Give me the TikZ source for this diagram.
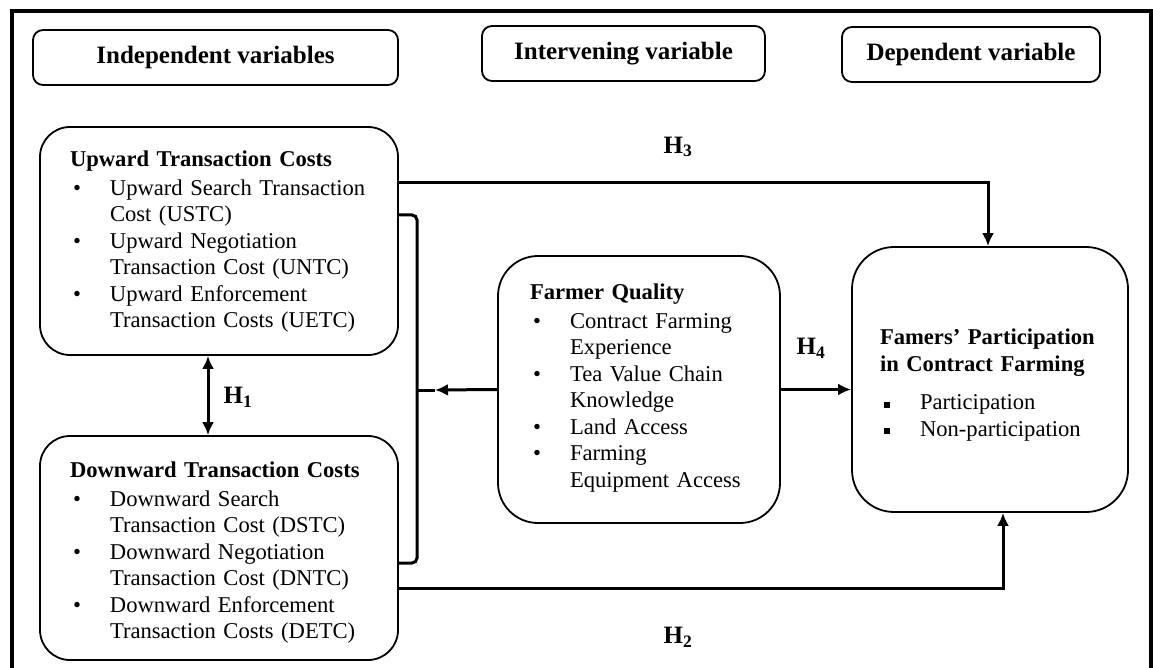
\documentclass[tikz,border=0pt]{standalone}
\usepackage{fontspec}
\setmainfont{Liberation Serif}
\usetikzlibrary{arrows.meta}
\tikzset{
  headbox/.style={draw,line width=1.8pt,rounded corners=10pt,minimum height=55pt,font=\fontsize{25}{30}\selectfont\bfseries},
  varbox/.style={draw,line width=1.8pt,align=left,font=\fontsize{22.6}{26.5}\selectfont},
  link/.style={line width=3pt},
  hlabel/.style={font=\fontsize{25}{30}\selectfont\bfseries}
}

\begin{document}
\begin{tikzpicture}[x=1pt,y=-1pt,>={Latex[length=13pt,width=12pt]}]
\path[use as bounding box] (0,0) rectangle (1153,668);
\fill[white] (0,0) rectangle (1153,668);
\draw[line width=4pt] (12,668) -- (12,11) -- (1151,11) -- (1151,668);

\node[headbox,minimum width=365pt] (indep) at (215.5,57.5) {Independent variables};
\node[headbox,minimum width=283pt] (interv) at (623.5,53.5) {Intervening variable};
\node[headbox,minimum width=258pt] (dep) at (971,54.5) {Dependent variable};

\node[varbox,rounded corners=30pt,minimum width=358pt,minimum height=228pt,text width=298pt] (up) at (219,241) {\rule{0pt}{20pt}\textbf{Upward Transaction Costs}\\[2pt]
\begin{tabular}[t]{@{\hspace{3pt}}p{37pt}@{}l@{}}
\textbullet & Upward Search Transaction\\
 & Cost (USTC)\\
\textbullet & Upward Negotiation\\
 & Transaction Cost (UNTC)\\
\textbullet & Upward Enforcement\\
 & Transaction Costs (UETC)
\end{tabular}};

\node[varbox,rounded corners=30pt,minimum width=358pt,minimum height=224pt,text width=298pt] (down) at (219,548) {\rule{0pt}{28pt}\textbf{Downward Transaction Costs}\\[2pt]
\begin{tabular}[t]{@{\hspace{3pt}}p{37pt}@{}l@{}}
\textbullet & Downward Search\\
 & Transaction Cost (DSTC)\\
\textbullet & Downward Negotiation\\
 & Transaction Cost (DNTC)\\
\textbullet & Downward Enforcement\\
 & Transaction Costs (DETC)
\end{tabular}};

\node[varbox,rounded corners=40pt,minimum width=282pt,minimum height=267pt,text width=218pt] (fq) at (639,389.5) {\textbf{Farmer Quality}\\[2pt]
\begin{tabular}[t]{@{\hspace{3pt}}p{37pt}@{}l@{}}
\textbullet & Contract Farming\\
 & Experience\\
\textbullet & Tea Value Chain\\
 & Knowledge\\
\textbullet & Land Access\\
\textbullet & Farming\\
 & Equipment Access
\end{tabular}};

\node[varbox,rounded corners=42pt,minimum width=276pt,minimum height=265pt,text width=220pt] (part) at (990,379.5) {\rule{0pt}{30pt}\textbf{Famers’ Participation}\\
\textbf{in Contract Farming}\\[12pt]
\begin{tabular}[t]{@{\hspace{4pt}}p{36pt}@{}l@{}}
\rule[2pt]{6pt}{6pt} & Participation\\
\rule[2pt]{6pt}{6pt} & Non-participation
\end{tabular}};

\coordinate (join) at (417,390);

\draw[link,<->] (208,0 |- up.south) -- (208,0 |- down.north);
\draw[link,rounded corners=5pt] (up.east |- 0,215) -- (417,215) -- (417,563) -- (down.east |- 0,563);
\draw[link] (join) -- ++(18,0);
\draw[link,->] (fq.west) -- ([xshift=18pt]join);
\draw[link,->] (up.east |- 0,183) -- (988,183) -- (988,0 |- part.north);
\draw[link,->] (down.east |- 0,588) -- (1003,588) -- (1003,0 |- part.south);
\draw[link,->] (fq.east) -- (part.west |- fq.east);

\node[hlabel] (h1) at (238,397) {H\textsubscript{1}};
\node[hlabel] (h3) at (678,147) {H\textsubscript{3}};
\node[hlabel] (h2) at (678,637) {H\textsubscript{2}};
\node[hlabel] (h4) at (811,348) {H\textsubscript{4}};
\end{tikzpicture}
\end{document}
